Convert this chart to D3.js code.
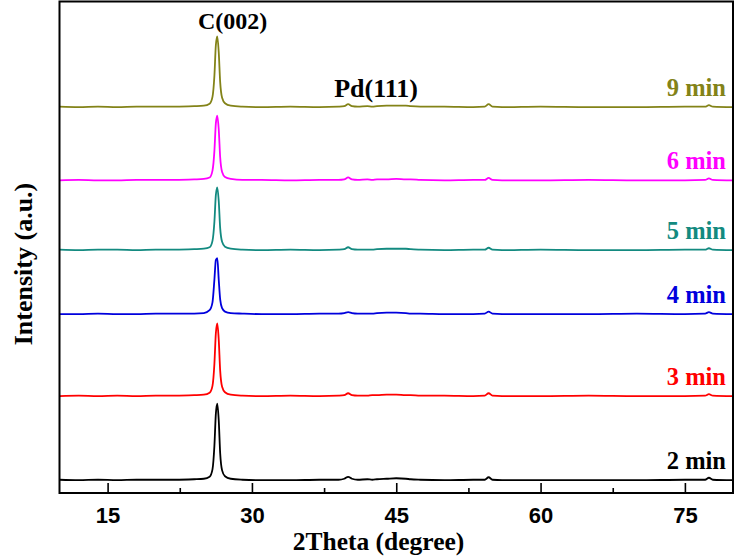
<!DOCTYPE html>
<html><head><meta charset="utf-8">
<script src="https://cdn.jsdelivr.net/npm/d3@7/dist/d3.min.js"></script>
<style>body{margin:0;background:#fff}svg{display:block}</style>
</head><body>
<svg id="c" width="736" height="558"></svg>
<script>
// shared 2θ grid (degrees)
const angles = [10,12,14,16,18,20,22,24,25,25.6,25.9,26.1,26.25,26.4,26.55,26.7,26.9,27.2,27.8,29,31,34,37,39,39.6,40.0,40.4,41,42,42.5,43,44,45,46,46.5,47.5,50,53,54.2,54.6,55.0,56,60,65,70,75,77.1,77.5,77.9,80];
// intensities above each pattern's own baseline (a.u.)
const i2min = [1,0,1,0,1,1,1,2,3,7,22,70,135,156,122,55,20,8,3,1,0,0,1,1,3,7,3,1,2,1,2,3,4,3,2,1,0,1,1,6,1,0,0,0,0,1,1,5,1,0];
const i3min = [0,1,0,1,0,1,1,2,3,7,21,66,128,148,115,52,19,8,3,1,0,1,0,1,2,6,2,1,1,2,2,3,3,2,2,1,1,0,1,6,1,0,0,1,0,0,1,4,1,0];
const i4min = [0,0,1,0,0,1,1,1,2,8,24,70,110,114,70,30,12,5,2,1,0,0,1,1,2,4,2,1,1,1,2,3,3,2,1,1,0,0,1,5,1,0,0,0,1,0,1,4,1,0];
const i5min = [1,0,1,1,0,1,1,2,3,6,19,58,112,128,100,45,17,7,3,1,0,1,0,1,2,6,2,1,1,1,2,3,3,3,2,1,0,1,1,5,1,0,1,0,0,1,1,4,1,0];
const i6min = [0,1,0,0,1,1,1,2,3,6,20,60,116,132,104,47,17,7,3,1,1,0,1,1,2,6,2,1,2,1,2,2,3,2,2,1,0,1,1,5,1,0,0,1,0,0,1,4,1,0];
const i9min = [1,0,1,0,1,1,1,2,3,7,21,64,126,144,112,51,19,8,3,1,0,1,0,1,2,6,2,1,2,1,2,3,3,3,2,1,1,0,1,6,1,0,1,0,0,1,1,4,1,0];
const seriesNames = ["2 min","3 min","4 min","5 min","6 min","9 min"];
const seriesData = [i2min,i3min,i4min,i5min,i6min,i9min];
const offsets = [26,197,364,494,636,785];
const colors = ["#000000","#ff0000","#0000dd","#138a80","#ff00ff","#838318"];
const xTicks = [15,30,45,60,75];
const xMinorTicks = [22.5,37.5,52.5,67.5];
const peakLabels = [{t:"C(002)",x:28.0},{t:"Pd(111)",x:42.9}];

const svg = d3.select("#c");
const L=59.5, R=733, T=1.5, B=493;
const x = d3.scaleLinear().domain([10,80]).range([L,R]);
const y = d3.scaleLinear().domain([0,1000]).range([B,T]);
const serif = "'Liberation Serif','Times New Roman',serif";

const line = d3.line().x(d=>x(d[0])).y(d=>y(d[1])).curve(d3.curveMonotoneX);
seriesData.forEach((s,k)=>{
  const pts = angles.map((a,i)=>[a, s[i]+offsets[k]]);
  svg.append("path").datum(pts).attr("d",line)
    .attr("fill","none").attr("stroke",colors[k]).attr("stroke-width",1.8);
  svg.append("text").attr("x",726).attr("y",y(offsets[k])-11)
    .attr("text-anchor","end").attr("fill",colors[k])
    .attr("font-family",serif).attr("font-weight","bold")
    .attr("font-size",24.5).text(seriesNames[k]);
});

// frame
svg.append("rect").attr("x",L).attr("y",T).attr("width",R-L).attr("height",B-T)
  .attr("fill","none").attr("stroke","#000").attr("stroke-width",2);

// x axis (ticks inward)
const ax = d3.axisBottom(x).tickValues(xTicks).tickSize(-10).tickPadding(14).tickFormat(d3.format("d"));
const g = svg.append("g").attr("transform",`translate(0,${B})`).call(ax);
g.select(".domain").remove();
g.selectAll("line").attr("stroke","#000").attr("stroke-width",1.6);
g.selectAll("text").attr("font-family","'Liberation Sans',Arial,sans-serif").attr("font-weight","bold").attr("font-size",22).attr("fill","#000");
const gm = svg.append("g").attr("transform",`translate(0,${B})`).call(d3.axisBottom(x).tickValues(xMinorTicks).tickSize(-5).tickFormat(""));
gm.select(".domain").remove();
gm.selectAll("line").attr("stroke","#000").attr("stroke-width",1.6);

// axis titles
svg.append("text").attr("x",378.5).attr("y",550).attr("text-anchor","middle")
  .attr("font-family",serif).attr("font-weight","bold").attr("font-size",25.5).text("2Theta (degree)");
svg.append("text").attr("transform","translate(32,264) rotate(-90)").attr("text-anchor","middle")
  .attr("font-family",serif).attr("font-weight","bold").attr("font-size",26).text("Intensity (a.u.)");

// peak annotations
svg.append("text").attr("x",x(peakLabels[0].x)).attr("y",29).attr("text-anchor","middle")
  .attr("font-family",serif).attr("font-weight","bold").attr("font-size",24).text(peakLabels[0].t);
svg.append("text").attr("x",x(peakLabels[1].x)).attr("y",97).attr("text-anchor","middle")
  .attr("font-family",serif).attr("font-weight","bold").attr("font-size",26).text(peakLabels[1].t);
</script>
</body></html>
